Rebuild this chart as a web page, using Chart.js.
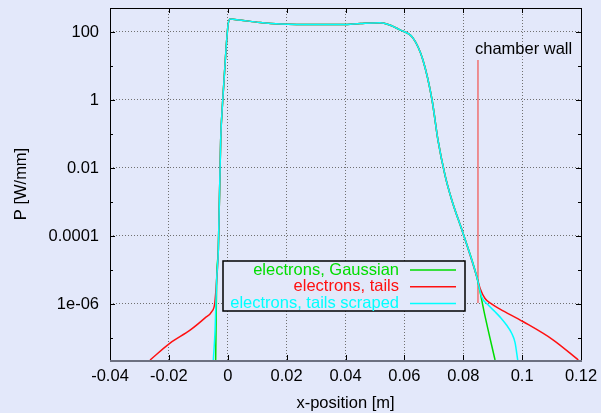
<!DOCTYPE html>
<html>
<head>
<meta charset="utf-8">
<script src="https://cdn.jsdelivr.net/npm/chart.js@4.4.0/dist/chart.umd.min.js"></script>
<style>
  html, body { margin: 0; padding: 0; background: #e3e8fa; }
  canvas { display: block; }
</style>
</head>
<body>
<canvas id="myChart" width="601" height="413"></canvas>
<script>
// shared part of the three power profiles (they overlap here)
const coreX = [-0.00377, -0.0032, -0.0024, -0.0017, -0.0006, 0.0001, 0.0008, 0.004, 0.011, 0.018, 0.031, 0.039, 0.045, 0.0517, 0.055, 0.0585, 0.0629, 0.0663, 0.0694, 0.0714, 0.0738, 0.0761, 0.0799, 0.0846];
const coreP = [5.1e-6, 3.9e-5, 0.067, 1, 30, 160, 240, 225, 190, 172, 166, 166, 178, 188, 161, 115, 67, 15, 1, 0.067, 0.0062, 0.00115, 1.22e-4, 6.3e-6];

// flanks of each profile
const gaussLeftX = [-0.0041];
const gaussLeftP = [2.25e-8];
const gaussRightX = [0.0874, 0.0908];
const gaussRightP = [4.4e-7, 2.25e-8];

const tailsLeftX = [-0.0264, -0.0196, -0.0128, -0.0077, -0.0055, -0.0044];
const tailsLeftP = [2.25e-8, 7.1e-8, 1.7e-7, 3.9e-7, 5.9e-7, 1.07e-6];
const tailsRightX = [0.0857, 0.0874, 0.0896, 0.0925, 0.1004, 0.1106, 0.1191];
const tailsRightP = [2.9e-6, 1.45e-6, 1e-6, 7.1e-7, 3e-7, 8.7e-8, 2.25e-8];

const scrapedLeftX = [-0.0049, -0.0043];
const scrapedLeftP = [2.25e-8, 1.7e-7];
const scrapedRightX = [0.0862, 0.0885, 0.0908, 0.093, 0.0947, 0.0964, 0.0976, 0.0985];
const scrapedRightP = [1.66e-6, 9.3e-7, 5.9e-7, 3.7e-7, 2.4e-7, 1.4e-7, 7.3e-8, 2.25e-8];

const seriesNames = ['electrons, Gaussian', 'electrons, tails', 'electrons, tails scraped'];
const seriesColors = ['#00dd00', '#ff1010', '#00ffff'];

const wallX = 0.085;
const wallP = [1.07e-6, 15];
const wallLabel = 'chamber wall';
const wallLabelP = 31.6;

const xMin = -0.04, xMax = 0.12, xStep = 0.02;
const yMin = 2.25e-8, yMax = 508;
const yMajor = [1e-6, 1e-4, 0.01, 1, 100];
const yMajorLabels = ['1e-06', '0.0001', '0.01', '1', '100'];
const yMinor = [1e-7, 1e-5, 0.001, 0.1, 10];

const BG = '#e3e8fa';
const FONT = '"Liberation Sans", Arial, Helvetica, sans-serif';
const FSIZE = 16.5;

function toPoints(xs, ps) {
    var pts = [];
    for (var i = 0; i < xs.length; i++) {
        pts.push({ x: xs[i], y: ps[i] });
    }
    return pts;
}

function profile(lx, lp, rx, rp) {
    return toPoints(lx.concat(coreX, rx), lp.concat(coreP, rp));
}

const bgPlugin = {
    id: 'bg',
    beforeDraw(chart) {
        const ctx = chart.ctx;
        ctx.save();
        ctx.fillStyle = BG;
        ctx.fillRect(0, 0, chart.width, chart.height);
        ctx.restore();
    }
};

const decorPlugin = {
    id: 'decor',
    afterDraw(chart) {
        const ctx = chart.ctx;
        const a = chart.chartArea;
        const xs = chart.scales.x, ys = chart.scales.y;
        ctx.save();

        // inward tick marks
        ctx.strokeStyle = '#000';
        ctx.lineWidth = 1;
        ctx.beginPath();
        for (var v = xMin; v <= xMax + 1e-9; v += xStep) {
            var px = Math.round(xs.getPixelForValue(v)) + 0.5;
            ctx.moveTo(px, a.bottom); ctx.lineTo(px, a.bottom - 5);
            ctx.moveTo(px, a.top); ctx.lineTo(px, a.top + 5);
        }
        yMajor.forEach(function (t) {
            var py = Math.round(ys.getPixelForValue(t)) + 0.5;
            ctx.moveTo(a.left, py); ctx.lineTo(a.left + 5, py);
            ctx.moveTo(a.right, py); ctx.lineTo(a.right - 5, py);
        });
        yMinor.forEach(function (t) {
            var py = Math.round(ys.getPixelForValue(t)) + 0.5;
            ctx.moveTo(a.left, py); ctx.lineTo(a.left + 3, py);
            ctx.moveTo(a.right, py); ctx.lineTo(a.right - 3, py);
        });
        ctx.stroke();

        // frame
        ctx.beginPath();
        ctx.moveTo(a.left + 0.5, a.bottom);
        ctx.lineTo(a.left + 0.5, a.top + 0.5);
        ctx.lineTo(a.right + 0.5, a.top + 0.5);
        ctx.lineTo(a.right + 0.5, a.bottom);
        ctx.stroke();
        ctx.strokeStyle = '#6c7080';
        ctx.lineWidth = 2;
        ctx.beginPath();
        ctx.moveTo(a.left, a.bottom + 1);
        ctx.lineTo(a.right + 1, a.bottom + 1);
        ctx.stroke();

        // chamber wall label
        ctx.fillStyle = '#000';
        ctx.font = FSIZE + 'px ' + FONT;
        ctx.textAlign = 'left';
        ctx.textBaseline = 'middle';
        ctx.fillText(wallLabel, xs.getPixelForValue(wallX) - 3, ys.getPixelForValue(wallLabelP));

        // legend box
        var bx = a.left + 113, by = a.top + 253, bw = 242, bh = 50;
        ctx.fillStyle = BG;
        ctx.fillRect(bx, by, bw, bh);
        ctx.strokeStyle = '#000';
        ctx.lineWidth = 1.5;
        ctx.strokeRect(bx, by, bw, bh);
        ctx.textAlign = 'right';
        for (var i = 0; i < seriesNames.length; i++) {
            var ry = by + 9 + i * 16.7;
            ctx.fillStyle = seriesColors[i];
            ctx.fillText(seriesNames[i], bx + 176, ry);
            ctx.strokeStyle = seriesColors[i];
            ctx.lineWidth = 1.5;
            ctx.beginPath();
            ctx.moveTo(bx + 187, ry);
            ctx.lineTo(bx + 233, ry);
            ctx.stroke();
        }
        ctx.restore();
    }
};

function lineSet(label, data, color, order) {
    return {
        label: label,
        data: data,
        borderColor: color,
        backgroundColor: color,
        borderWidth: 1.5,
        pointRadius: 0,
        fill: false,
        cubicInterpolationMode: 'monotone',
        order: order
    };
}

var ctx = document.getElementById('myChart').getContext('2d');
var myChart = new Chart(ctx, {
    type: 'line',
    data: {
        datasets: [
            lineSet(seriesNames[0], profile(gaussLeftX, gaussLeftP, gaussRightX, gaussRightP), seriesColors[0], 2),
            lineSet(seriesNames[1], profile(tailsLeftX, tailsLeftP, tailsRightX, tailsRightP), seriesColors[1], 1),
            lineSet(seriesNames[2], profile(scrapedLeftX, scrapedLeftP, scrapedRightX, scrapedRightP), seriesColors[2], 0),
            lineSet('wall', toPoints([wallX, wallX], wallP), '#f07070', 3)
        ]
    },
    options: {
        responsive: false,
        animation: false,
        devicePixelRatio: 1,
        layout: { padding: { top: 8, right: 20, left: 0, bottom: 0 } },
        plugins: {
            legend: { display: false },
            tooltip: { enabled: false }
        },
        scales: {
            x: {
                type: 'linear',
                position: 'bottom',
                min: xMin,
                max: xMax,
                afterFit: function (s) {
                    s.height = 53;
                    s.paddingLeft = 0;
                    s.paddingRight = 0;
                },
                grid: { color: '#707070', lineWidth: 1, drawTicks: false },
                border: { display: false, dash: [1, 2] },
                ticks: {
                    stepSize: xStep,
                    autoSkip: false,
                    maxRotation: 0,
                    padding: 7,
                    color: '#000',
                    font: { family: FONT, size: FSIZE },
                    callback: function (v) { return String(Number(v.toFixed(2))); }
                },
                title: {
                    display: true,
                    text: 'x-position [m]',
                    color: '#000',
                    font: { family: FONT, size: FSIZE },
                    padding: { top: 0, bottom: 0 }
                }
            },
            y: {
                type: 'logarithmic',
                position: 'left',
                min: yMin,
                max: yMax,
                afterFit: function (s) {
                    s.width = 110;
                    s.paddingTop = 0;
                    s.paddingBottom = 0;
                },
                afterBuildTicks: function (s) {
                    s.min = yMin;
                    s.max = yMax;
                    s.ticks = yMajor.map(function (v) { return { value: v }; });
                },
                grid: { color: '#707070', lineWidth: 1, drawTicks: false },
                border: { display: false, dash: [1, 2] },
                ticks: {
                    autoSkip: false,
                    padding: 11,
                    color: '#000',
                    font: { family: FONT, size: FSIZE },
                    callback: function (v, i) { return yMajorLabels[i]; }
                },
                title: {
                    display: true,
                    text: 'P [W/mm]',
                    color: '#000',
                    font: { family: FONT, size: FSIZE },
                    padding: { top: 12, bottom: 0 }
                }
            }
        }
    },
    plugins: [bgPlugin, decorPlugin]
});
</script>
</body>
</html>
